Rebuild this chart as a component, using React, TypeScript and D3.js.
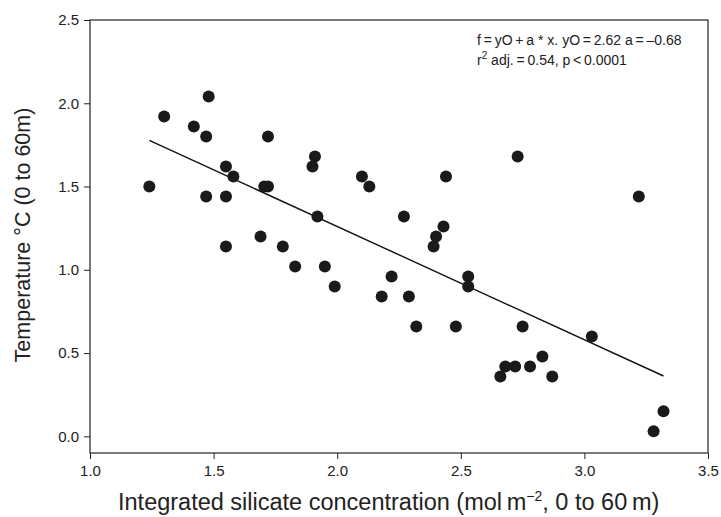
import React, { useRef, useEffect } from 'react';
import * as d3 from 'd3';

// integrated silicate (mol m-2) and temperature (°C), 0 to 60 m
const silicate = [
  1.24, 1.30, 1.42, 1.48, 1.47, 1.47, 1.55, 1.55, 1.55, 1.58,
  1.69, 1.705, 1.72, 1.72, 1.78, 1.83, 1.90, 1.91, 1.92, 1.95,
  1.99, 2.10, 2.13, 2.18, 2.22, 2.27, 2.29, 2.32, 2.39, 2.40,
  2.43, 2.44, 2.48, 2.53, 2.53, 2.66, 2.68, 2.72, 2.73, 2.75,
  2.78, 2.83, 2.87, 3.03, 3.22, 3.28, 3.32,
];
const temperature = [
  1.50, 1.92, 1.86, 2.04, 1.80, 1.44, 1.62, 1.44, 1.14, 1.56,
  1.20, 1.50, 1.50, 1.80, 1.14, 1.02, 1.62, 1.68, 1.32, 1.02,
  0.90, 1.56, 1.50, 0.84, 0.96, 1.32, 0.84, 0.66, 1.14, 1.20,
  1.26, 1.56, 0.66, 0.96, 0.90, 0.36, 0.42, 0.42, 1.68, 0.66,
  0.42, 0.48, 0.36, 0.60, 1.44, 0.03, 0.15,
];
const xTicks = [1.0, 1.5, 2.0, 2.5, 3.0, 3.5];
const yTicks = [0.0, 0.5, 1.0, 1.5, 2.0, 2.5];
const fitIntercept = 2.62;
const fitSlope = -0.68;

const W = 721;
const H = 517;
const FONT = '"Liberation Sans", Arial, sans-serif';

const Chart = () => {
  const svgRef = useRef<SVGSVGElement>(null);

  useEffect(() => {
    const svg = d3.select(svgRef.current);
    svg.selectAll('*').remove();

    const margin = { top: 20, right: 13, bottom: 64, left: 90 };
    const innerW = W - margin.left - margin.right;
    const innerH = H - margin.top - margin.bottom;

    const x = d3.scaleLinear().domain([1.0, 3.5]).range([0, innerW]);
    const y = d3.scaleLinear().domain([-0.1, 2.5]).range([innerH, 0]);

    const g = svg.append('g').attr('transform', `translate(${margin.left},${margin.top})`);

    // frame
    g.append('rect')
      .attr('x', 0).attr('y', 0)
      .attr('width', innerW).attr('height', innerH)
      .attr('fill', 'none')
      .attr('stroke', '#222')
      .attr('stroke-width', 1.2);

    const xAxis = g.append('g')
      .attr('transform', `translate(0,${innerH})`)
      .call(d3.axisBottom(x).tickValues(xTicks).tickFormat(d3.format('.1f')).tickSize(6).tickPadding(6));
    const yAxis = g.append('g')
      .call(d3.axisLeft(y).tickValues(yTicks).tickFormat(d3.format('.1f')).tickSize(6).tickPadding(5));

    [xAxis, yAxis].forEach((ax) => {
      ax.select('.domain').remove();
      ax.selectAll('line').attr('stroke', '#222');
      ax.selectAll('text')
        .attr('font-family', FONT)
        .attr('font-size', 15)
        .attr('fill', '#222');
    });

    // regression line
    const ext = d3.extent(silicate) as [number, number];
    g.append('line')
      .attr('x1', x(ext[0])).attr('y1', y(fitIntercept + fitSlope * ext[0]))
      .attr('x2', x(ext[1])).attr('y2', y(fitIntercept + fitSlope * ext[1]))
      .attr('stroke', '#111')
      .attr('stroke-width', 1.4);

    g.selectAll('circle.pt')
      .data(silicate)
      .enter()
      .append('circle')
      .attr('class', 'pt')
      .attr('cx', (d) => x(d))
      .attr('cy', (d, i) => y(temperature[i]))
      .attr('r', 6)
      .attr('fill', '#1a1a1a');

    // annotation
    const note = g.append('text')
      .attr('font-family', FONT)
      .attr('font-size', 14)
      .attr('fill', '#222');
    note.append('tspan')
      .attr('x', 387).attr('y', 25)
      .text('f\u2009=\u2009yO\u2009+\u2009a * x. yO\u2009=\u20092.62 a\u2009=\u2009\u20130.68');
    const l2 = note.append('tspan').attr('x', 387).attr('y', 45);
    l2.text('r');
    l2.append('tspan').attr('dy', -6).attr('font-size', 10).text('2');
    note.append('tspan').attr('dy', 6).text(' adj.\u2009=\u20090.54, p\u2009<\u20090.0001');

    // axis titles
    const xt = svg.append('text')
      .attr('x', 118)
      .attr('y', 510)
      .attr('font-family', FONT)
      .attr('font-size', 23.5)
      .attr('fill', '#222');
    xt.append('tspan').text('Integrated silicate concentration (mol\u2009m');
    xt.append('tspan').attr('dy', -9).attr('font-size', 14).text('\u22122');
    xt.append('tspan').attr('dy', 9).text(', 0 to 60\u2009m)');

    svg.append('text')
      .attr('transform', `translate(30,${margin.top + 215}) rotate(-90)`)
      .attr('text-anchor', 'middle')
      .attr('font-family', FONT)
      .attr('font-size', 21.5)
      .attr('fill', '#222')
      .text('Temperature \u00b0C (0 to 60m)');
  }, []);

  return (
    <svg
      ref={svgRef}
      width={W}
      height={H}
      style={{ position: 'absolute', left: 0, top: 0, background: '#fff' }}
    />
  );
};

export default function App() {
  return <Chart />;
}
